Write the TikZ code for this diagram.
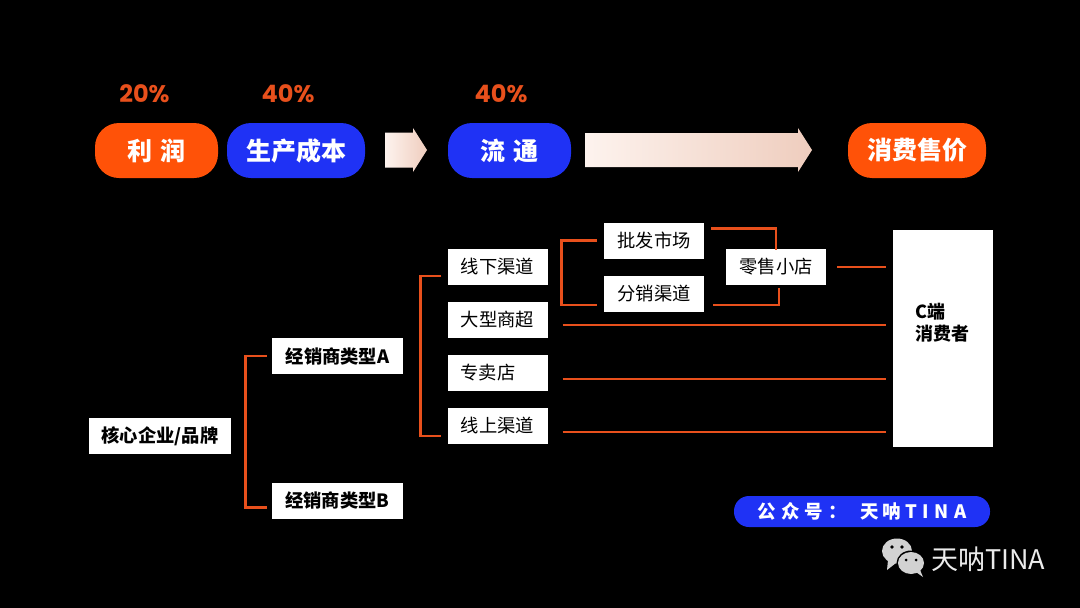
\documentclass[tikz,border=0pt]{standalone}
\usepackage{fontspec}
\setmainfont{Noto Sans CJK SC}
\newfontfamily\latinbold{Poppins}
\definecolor{brandorange}{HTML}{FF5208}
\definecolor{brandblue}{HTML}{1F32F5}
\definecolor{linkorange}{HTML}{E8501C}
\definecolor{fadeleft}{HTML}{FDF3EE}
\definecolor{faderight}{HTML}{EFCDBE}
\tikzset{
    pill/.style={rounded corners=24pt, minimum width=#1, minimum height=55pt, inner sep=0pt,
        text=white, font=\fontsize{25}{25}\selectfont\bfseries},
    orangepill/.style={pill=#1, fill=brandorange},
    bluepill/.style={pill=#1, fill=brandblue},
    percent/.style={text=linkorange, font=\fontsize{24}{24}\latinbold\bfseries},
    whitebox/.style={fill=white, text=black, inner sep=0pt, minimum width=#1, minimum height=36pt,
        font=\fontsize{18.3}{18.3}\selectfont},
    boldbox/.style={whitebox=#1, font=\fontsize{18.3}{18.3}\selectfont\bfseries},
    link/.style={draw=linkorange, line width=2.8pt},
}
\begin{document}
\begin{tikzpicture}[x=1pt, y=-1pt]
    \useasboundingbox[fill=black] (0, 0) rectangle (1080, 608);

    \node[percent] (pctprofit) at (144.5, 94) {20\%};
    \node[percent] (pctcost) at (288, 94) {40\%};
    \node[percent] (pctflow) at (501, 94) {40\%};
    \node[orangepill=123pt] (profit) at (156.5, 150.5) {利\hspace{0.35em}润};
    \node[bluepill=138pt] (cost) at (296, 150.5) {生产成本};
    \node[bluepill=123pt] (flow) at (509.5, 150.5) {流\hspace{0.35em}通};
    \node[orangepill=138pt] (price) at (917, 150.5) {消费售价};

    \shade[left color=fadeleft, right color=faderight] (385, 132.5) -- (413, 132.5) -- (413, 128) -- (427, 150) -- (413, 172) -- (413, 167.5) -- (385, 167.5) -- cycle;
    \shade[left color=fadeleft, right color=faderight] (585, 133) -- (798, 133) -- (798, 128) -- (812, 150) -- (798, 172) -- (798, 167) -- (585, 167) -- cycle;

    \node[boldbox=142pt] (core) at (160, 436) {核心企业/品牌};
    \node[boldbox=131pt] (dealera) at (337.5, 356) {经销商类型A};
    \node[boldbox=131pt] (dealerb) at (337.5, 500.5) {经销商类型B};

    \node[whitebox=100pt] (offline) at (497.5, 267) {线下渠道};
    \node[whitebox=100pt] (mall) at (497.5, 320) {大型商超};
    \node[whitebox=100pt] (shop) at (497.5, 373) {\makebox[74pt][l]{专卖店}};
    \node[whitebox=100pt] (online) at (497.5, 426) {线上渠道};
    \node[whitebox=100pt] (market) at (654, 240.5) {批发市场};
    \node[whitebox=100pt] (resale) at (654, 294) {分销渠道};
    \node[whitebox=100pt] (retail) at (776, 267) {零售小店};
    \node[fill=white, minimum width=100pt, minimum height=217pt, inner sep=0pt] (consumer) at (942.5, 338.5) {};
    \node[anchor=north west, align=left, text=black, inner sep=0pt, font=\fontsize{18}{22}\selectfont\bfseries] (consumerlabel) at (915, 303) {C端\\消费者};

    % brackets
    \draw[link] ([xshift=-5pt]dealera.west) -- ++(-21, 0) |- ([shift={(-5, 7)}]dealerb.west);
    \draw[link] ([shift={(-6, 9)}]offline.west) -- ++(-20.5, 0) |- ([shift={(-6, 10)}]online.west);
    \draw[link] ([xshift=-7pt]market.west) -- ++(-35, 0) |- ([shift={(-7, 11)}]resale.west);
    \draw[link] ([shift={(7, 6)}]market.north east) -| ([shift={(0, 1)}]retail.north);
    \draw[link] ([shift={(9, 11)}]resale.east) -| ([shift={(3, 3)}]retail.south);

    % lines to the consumer
    \draw[link] ([xshift=11pt]retail.east) -- ([xshift=-6pt]consumer.west |- retail.east);
    \draw[link] ([shift={(15, 5)}]mall.east) -- ([shift={(-6, 5)}]consumer.west |- mall.east);
    \draw[link] ([shift={(15, 6)}]shop.east) -- ([shift={(-6, 6)}]consumer.west |- shop.east);
    \draw[link] ([shift={(15, 6)}]online.east) -- ([shift={(-6, 6)}]consumer.west |- online.east);

    \node[fill=brandblue, rounded corners=15pt, minimum width=256pt, minimum height=31pt, inner sep=0pt, text=white, font=\fontsize{18.5}{18.5}\selectfont\bfseries] (account) at (862, 511.5) {公\hspace{0.28em}众\hspace{0.28em}号\hspace{0.28em}：\hspace{0.75em}天\hspace{0.15em}呐\hspace{0.25em}T\hspace{0.3em}I\hspace{0.3em}N\hspace{0.3em}A};

    % wechat mark
    \fill[lightgray!70!white] (897, 551) ellipse (15 and 12.5);
    \fill[lightgray!70!white] (888, 560) -- (887, 570) -- (896, 563) -- cycle;
    \fill[black] (911, 563) ellipse (14.5 and 12.5);
    \fill[lightgray!70!white] (911, 563) ellipse (13 and 11);
    \fill[lightgray!70!white] (916, 572) -- (923, 577) -- (920, 570) -- cycle;
    \fill[black] (892, 547) circle (1.8) (902, 547) circle (1.8) (906, 560) circle (1.5) (916, 560) circle (1.5);
    \node[text=white!92!black, anchor=west, inner sep=0pt, font=\fontsize{27}{27}\selectfont] (watermark) at (931, 559.5) {天呐TINA};
\end{tikzpicture}
\end{document}
